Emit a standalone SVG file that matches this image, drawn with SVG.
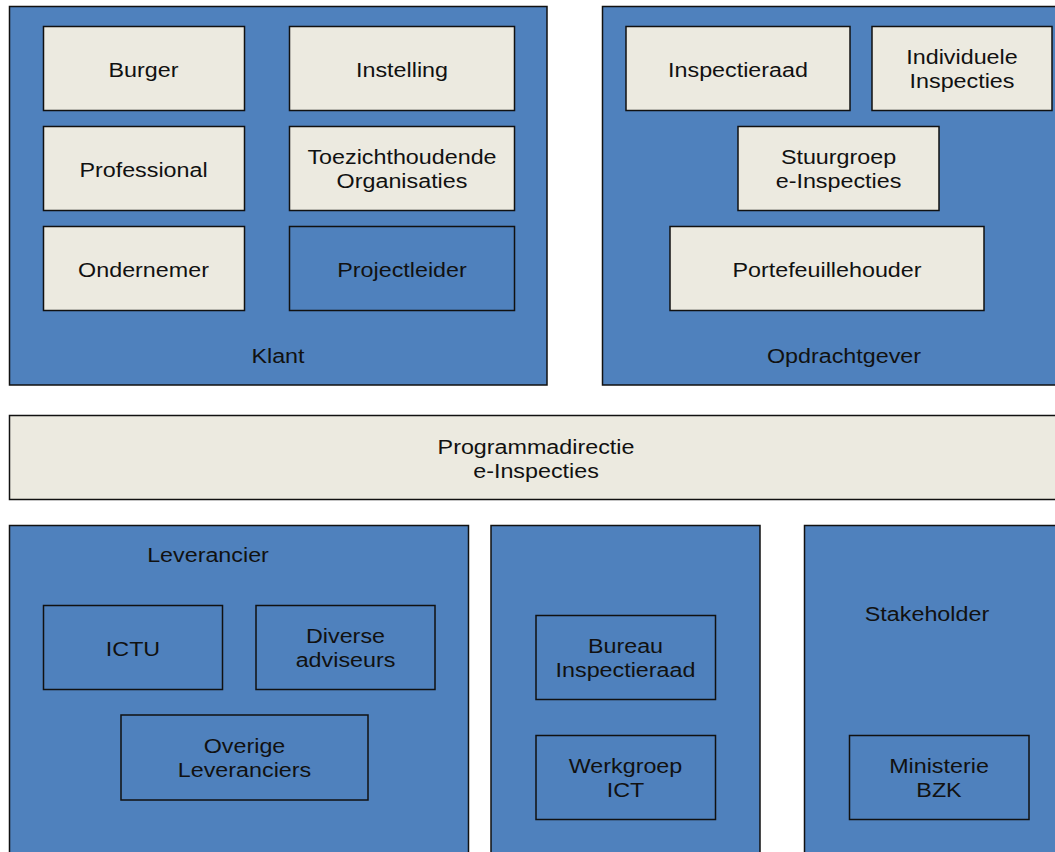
<svg xmlns="http://www.w3.org/2000/svg" width="1055" height="852" viewBox="0 0 1055 852">
<style>
.bg{fill:#4f81bd;stroke:#111;stroke-width:1.5}
.bx{fill:#eceae0;stroke:#111;stroke-width:1.5}
.bb{fill:#4f81bd;stroke:#111;stroke-width:1.5}
text{font-family:"Liberation Sans",Arial,sans-serif;font-size:21px;fill:#111;text-anchor:middle}
</style>
<rect width="1055" height="852" fill="#fff"/>
<g id="klant">
<rect class="bg" x="9.5" y="6.5" width="537.5" height="378.5"/>
<text transform="translate(278 363) scale(1.11 1)">Klant</text>
</g>
<g id="opdrachtgever">
<rect class="bg" x="602.5" y="6.5" width="480" height="378.5"/>
<text transform="translate(844 363) scale(1.11 1)">Opdrachtgever</text>
</g>
<g id="burger"><rect class="bx" x="43.5" y="26.5" width="201" height="84"/><text transform="translate(143.5 77) scale(1.11 1)">Burger</text></g>
<g id="instelling"><rect class="bx" x="289.5" y="26.5" width="225" height="84"/><text transform="translate(402 77) scale(1.11 1)">Instelling</text></g>
<g id="professional"><rect class="bx" x="43.5" y="126.5" width="201" height="84"/><text transform="translate(143.5 177) scale(1.11 1)">Professional</text></g>
<g id="toezicht"><rect class="bx" x="289.5" y="126.5" width="225" height="84"/><text transform="translate(402 164) scale(1.11 1)">Toezichthoudende</text><text transform="translate(402 188) scale(1.11 1)">Organisaties</text></g>
<g id="ondernemer"><rect class="bx" x="43.5" y="226.5" width="201" height="84"/><text transform="translate(143.5 277) scale(1.11 1)">Ondernemer</text></g>
<g id="projectleider"><rect class="bb" x="289.5" y="226.5" width="225" height="84"/><text transform="translate(402 277) scale(1.11 1)">Projectleider</text></g>
<g id="inspectieraad"><rect class="bx" x="626" y="26.5" width="224" height="84"/><text transform="translate(738 77) scale(1.11 1)">Inspectieraad</text></g>
<g id="individuele"><rect class="bx" x="872" y="26.5" width="180" height="84"/><text transform="translate(962 64) scale(1.11 1)">Individuele</text><text transform="translate(962 88) scale(1.11 1)">Inspecties</text></g>
<g id="stuurgroep"><rect class="bx" x="738" y="126.5" width="201" height="84"/><text transform="translate(838.5 164) scale(1.11 1)">Stuurgroep</text><text transform="translate(838.5 188) scale(1.11 1)">e-Inspecties</text></g>
<g id="portefeuillehouder"><rect class="bx" x="670" y="226.5" width="314" height="84"/><text transform="translate(827 277) scale(1.11 1)">Portefeuillehouder</text></g>
<g id="programmadirectie"><rect class="bx" x="9.5" y="415.5" width="1060" height="84"/><text transform="translate(536 454) scale(1.11 1)">Programmadirectie</text><text transform="translate(536 478) scale(1.11 1)">e-Inspecties</text></g>
<g id="leverancier">
<rect class="bg" x="9.5" y="525.5" width="459" height="340"/>
<text transform="translate(208 562) scale(1.11 1)">Leverancier</text>
</g>
<g id="midden"><rect class="bg" x="491" y="525.5" width="269" height="340"/></g>
<g id="stakeholder">
<rect class="bg" x="804.5" y="525.5" width="270" height="340"/>
<text transform="translate(927 621) scale(1.11 1)">Stakeholder</text>
</g>
<g id="ictu"><rect class="bb" x="43.5" y="605.5" width="179" height="84"/><text transform="translate(133 656) scale(1.11 1)">ICTU</text></g>
<g id="diverse"><rect class="bb" x="256" y="605.5" width="179" height="84"/><text transform="translate(345.5 643) scale(1.11 1)">Diverse</text><text transform="translate(345.5 667) scale(1.11 1)">adviseurs</text></g>
<g id="overige"><rect class="bb" x="121" y="715" width="247" height="85"/><text transform="translate(244.5 753) scale(1.11 1)">Overige</text><text transform="translate(244.5 777) scale(1.11 1)">Leveranciers</text></g>
<g id="bureau"><rect class="bb" x="536" y="615.5" width="179.5" height="84"/><text transform="translate(625.5 653) scale(1.11 1)">Bureau</text><text transform="translate(625.5 677) scale(1.11 1)">Inspectieraad</text></g>
<g id="werkgroep"><rect class="bb" x="536" y="735.5" width="179.5" height="84"/><text transform="translate(625.5 773) scale(1.11 1)">Werkgroep</text><text transform="translate(625.5 797) scale(1.11 1)">ICT</text></g>
<g id="ministerie"><rect class="bb" x="849.5" y="735.5" width="179.5" height="84"/><text transform="translate(939 773) scale(1.11 1)">Ministerie</text><text transform="translate(939 797) scale(1.11 1)">BZK</text></g>
<g id="connectors"/>
</svg>
